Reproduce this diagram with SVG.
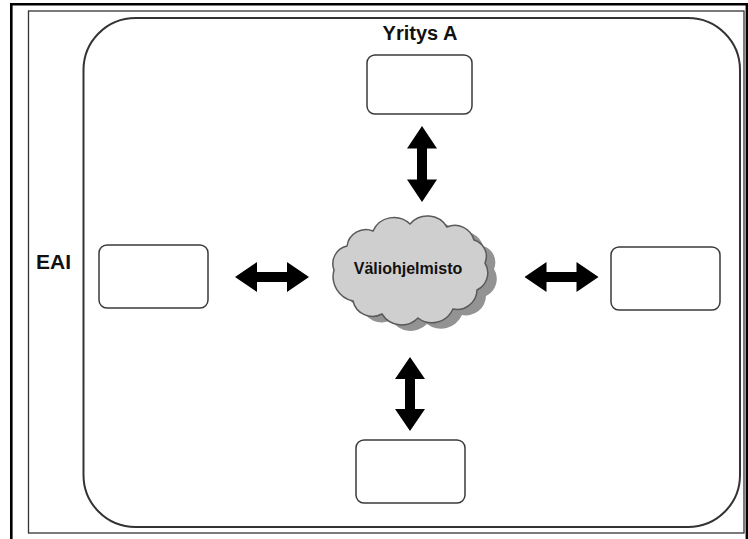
<svg xmlns="http://www.w3.org/2000/svg" width="748" height="539" viewBox="0 0 748 539">
  <style>
    .sys { fill: #ffffff; stroke: #3a3a3a; stroke-width: 1.5; }
    .label { font-family: "Liberation Sans", Arial, sans-serif; font-weight: bold; fill: #111111; }
    .arrow { fill: #000000; }
  </style>
  <defs>
    <path id="cloudShape" d="M 334 270 A 18 18 0 0 1 347 246 A 19 19 0 0 1 373 231 A 23 23 0 0 1 410 224 A 23 23 0 0 1 447 227 A 20 20 0 0 1 474 240 A 17 17 0 0 1 485 263 A 19 19 0 0 1 477 290 A 20 20 0 0 1 453 309 A 23 23 0 0 1 418 318 A 23 23 0 0 1 382 314 A 20 20 0 0 1 353 301 A 25 25 0 0 1 334 270 Z"/>
    <!-- horizontal double arrow, 74 long, centred on the origin -->
    <path id="dblArrowH" d="M -37 0 L -15 -15 L -15 -5 L 15 -5 L 15 -15 L 37 0 L 15 15 L 15 5 L -15 5 L -15 15 Z"/>
  </defs>

  <rect width="748" height="539" fill="#ffffff"/>

  <!-- page border -->
  <g id="frame">
    <path d="M 11.3 539 L 11.3 4.3 L 748 4.3" fill="none" stroke="#000000" stroke-width="2.6"/>
    <line x1="746.8" y1="4.3" x2="746.8" y2="539" stroke="#000000" stroke-width="2.4"/>
    <rect x="28.5" y="11" width="715.5" height="522" fill="none" stroke="#333333" stroke-width="1.3"/>
  </g>

  <!-- EAI boundary -->
  <g id="eai">
    <rect x="83.5" y="18" width="656.5" height="509" rx="52" ry="52" fill="none" stroke="#333333" stroke-width="2"/>
    <text class="label" x="36" y="269" font-size="21">EAI</text>
    <text class="label" x="420" y="40" font-size="20" text-anchor="middle">Yritys A</text>
  </g>

  <!-- middleware cloud -->
  <g id="middleware">
    <use href="#cloudShape" transform="translate(9,6)" fill="#939393"/>
    <use href="#cloudShape" fill="#cfcfcf" stroke="#5a5a5a" stroke-width="1.5"/>
    <text class="label" x="408" y="274" font-size="16" text-anchor="middle">Väliohjelmisto</text>
  </g>

  <!-- applications -->
  <g id="app-top"><rect class="sys" x="367" y="55" width="105" height="59" rx="8"/></g>
  <g id="app-left"><rect class="sys" x="99" y="245" width="109" height="63" rx="8"/></g>
  <g id="app-right"><rect class="sys" x="611" y="247" width="109" height="63" rx="8"/></g>
  <g id="app-bottom"><rect class="sys" x="356" y="440" width="109" height="63" rx="8"/></g>

  <!-- connectors -->
  <g id="connectors">
    <use href="#dblArrowH" class="arrow" transform="translate(422,164) rotate(90) scale(1.03,1)"/>
    <use href="#dblArrowH" class="arrow" transform="translate(272,277)"/>
    <use href="#dblArrowH" class="arrow" transform="translate(561.5,277)"/>
    <use href="#dblArrowH" class="arrow" transform="translate(410,394) rotate(90)"/>
  </g>
</svg>
